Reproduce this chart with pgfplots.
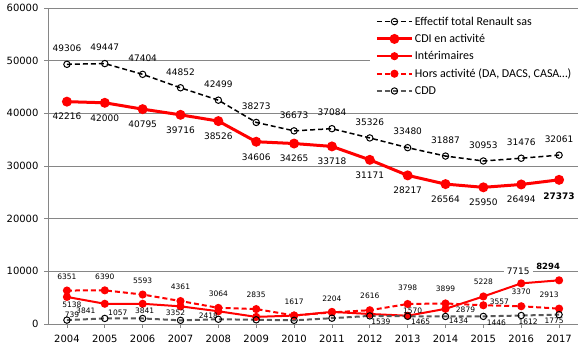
\documentclass[border=0pt]{standalone}
\usepackage{fontspec}
\usepackage{pgfplots}
\usepackage{pgfplotstable}
\pgfplotsset{compat=1.18}
\newfontfamily\dejavu{DejaVu Sans}
\newfontfamily\carlito{Carlito}

\pgfplotstableread{
x y
2004 49306
2005 49447
2006 47404
2007 44852
2008 42499
2009 38273
2010 36673
2011 37084
2012 35326
2013 33480
2014 31887
2015 30953
2016 31476
2017 32061
}\total
\pgfplotstableread{
x y
2004 42216
2005 42000
2006 40795
2007 39716
2008 38526
2009 34606
2010 34265
2011 33718
2012 31171
2013 28217
2014 26564
2015 25950
2016 26494
2017 27373
}\cdi
\pgfplotstableread{
x y
2004 5138
2005 3841
2006 3841
2007 3352
2008 2418
2009 1350
2010 1600
2011 2300
2012 1900
2013 1570
2014 2879
2015 5228
2016 7715
2017 8294
}\interim
\pgfplotstableread{
x y
2004 6351
2005 6390
2006 5593
2007 4361
2008 3064
2009 2835
2010 1617
2011 2204
2012 2616
2013 3798
2014 3899
2015 3557
2016 3370
2017 2913
}\hors
\pgfplotstableread{
x y
2004 739
2005 1057
2006 1050
2007 700
2008 900
2009 800
2010 700
2011 1100
2012 1539
2013 1465
2014 1434
2015 1446
2016 1612
2017 1775
}\cdd

% label tables: x y dx dy label
\pgfplotstableread{
x y dx dy label
2004 49306 0 16 49306
2005 49447 0 16 49447
2006 47404 0 16 47404
2007 44852 0 16 44852
2008 42499 0 16 42499
2009 38273 0 16 38273
2010 36673 0 16 36673
2011 37084 0 16 37084
2012 35326 0 16 35326
2013 33480 0 16 33480
2014 31887 0 16 31887
2015 30953 0 16 30953
2016 31476 0 16 31476
2017 32061 0 16 32061
}\totallbl
\pgfplotstableread{
x y dx dy label
2004 42216 0 -15 42216
2005 42000 0 -15 42000
2006 40795 0 -15 40795
2007 39716 0 -15 39716
2008 38526 0 -15 38526
2009 34606 0 -15 34606
2010 34265 0 -15 34265
2011 33718 0 -15 33718
2012 31171 0 -15 31171
2013 28217 0 -15 28217
2014 26564 0 -15 26564
2015 25950 0 -15 25950
2016 26494 0 -15 26494
}\cdilbl
\pgfplotstableread{
x y dx dy label
2017 27373 0 -16 27373
}\cdilblb
\pgfplotstableread{
x y dx dy label
2004 5138 5 -8 5138
2005 3841 -19 -7 3841
2006 3841 2 -7 3841
2007 3352 -5 -6 3352
2008 2418 -10 -5 2418
2013 1570 5 5 1570
2014 2879 20 -1 2879
2015 5228 0 15 5228
}\interimlbl
\pgfplotstableread{
x y dx dy label
2016 7715 -3 12 7715
}\interimlblbig
\pgfplotstableread{
x y dx dy label
2017 8294 -11 14 8294
}\interimlblbold
\pgfplotstableread{
x y dx dy label
2004 6351 0 14 6351
2005 6390 0 14 6390
2006 5593 0 14 5593
2007 4361 0 14 4361
2008 3064 0 14 3064
2009 2835 0 14 2835
2010 1617 0 14 1617
2011 2204 0 14 2204
2012 2616 0 14 2616
2013 3798 0 16 3798
2014 3899 0 15 3899
2015 3557 16 3 3557
2016 3370 0 14 3370
2017 2913 -10 14 2913
}\horslbl
\pgfplotstableread{
x y dx dy label
2004 739 5 5 739
2005 1057 13 6 1057
2012 1539 11 -6 1539
2013 1465 13 -5 1465
2014 1434 13 -4 1434
2015 1446 13 -6 1446
2016 1612 7 -6 1612
2017 1775 -5 -6 1775
}\cddlbl

\pgfplotsset{
  lbl/.style={draw=none, mark=none, forget plot,
    point meta=explicit symbolic,
    visualization depends on={\thisrow{dx} \as \dx},
    visualization depends on={\thisrow{dy} \as \dy},
    nodes near coords,
    every node near coord/.append style={anchor=center, xshift=\dx pt, yshift=\dy pt,
      font=#1, text=black, inner sep=0.5pt}},
}
\definecolor{cddgray}{RGB}{89,89,89}
\definecolor{gridgray}{RGB}{134,134,134}

\begin{document}
\begin{tikzpicture}
\begin{axis}[
  scale only axis, width=530pt, height=316pt,
  xmin=2003.5, xmax=2017.5, ymin=0, ymax=60000,
  xtick={2004,2005,...,2017}, ytick={0,10000,...,60000},
  axis x line*=bottom, axis y line*=left,
  ymajorgrids, major grid style={gridgray, line width=0.8pt},
  axis line style={gridgray, line width=0.8pt}, tick style={gridgray, line width=0.8pt},
  tick align=outside, major tick length=4pt,
  /pgf/number format/1000 sep={}, scaled y ticks=false,
  /pgf/number format/assume math mode=true,
  tick label style={font=\dejavu\fontsize{10}{12}\selectfont, text=black},
  x tick label style={yshift=-4pt},
  y tick label style={xshift=-2pt},
  clip=false,
  legend image code/.code={\draw[mark repeat=2, mark phase=2, #1] plot coordinates {(0pt,0pt) (17.5pt,0pt) (35pt,0pt)};},
  legend style={at={(1,1)}, anchor=north east, yshift=-4pt, draw=none, fill=white,
    font=\carlito\fontsize{12}{14}\selectfont, row sep=4.5pt, inner xsep=5pt, inner ysep=3pt,
    nodes={inner sep=1.5pt}},
  legend cell align=left,
]
\addplot[black, line width=1.5pt, dash pattern=on 5pt off 3pt, mark=o, mark size=3.2pt,
  mark options={solid, fill=white, line width=1pt}] table[x=x,y=y]{\total};
\addlegendentry{Effectif total Renault sas}
\addplot[red, line width=3pt, mark=*, mark size=3.4pt, mark options={solid}] table[x=x,y=y]{\cdi};
\addlegendentry{CDI en activité}
\addplot[red, line width=2pt, mark=*, mark size=3pt, mark options={solid}] table[x=x,y=y]{\interim};
\addlegendentry{Intérimaires}
\addplot[red, line width=2pt, dash pattern=on 5pt off 3pt, mark=*, mark size=3pt, mark options={solid}] table[x=x,y=y]{\hors};
\addlegendentry{Hors activité (DA, DACS, CASA…)}
\addplot[cddgray, line width=2pt, dash pattern=on 5pt off 3pt, mark=o, mark size=3.2pt,
  mark options={solid, draw=black, fill=white, line width=1pt}] table[x=x,y=y]{\cdd};
\addlegendentry{CDD}

\addplot[lbl={\dejavu\fontsize{9}{10}\selectfont}] table[x=x,y=y,meta=label]{\totallbl};
\addplot[lbl={\dejavu\fontsize{9}{10}\selectfont}] table[x=x,y=y,meta=label]{\cdilbl};
\addplot[lbl={\dejavu\bfseries\fontsize{9}{10}\selectfont}] table[x=x,y=y,meta=label]{\cdilblb};
\addplot[lbl={\dejavu\fontsize{7.5}{9}\selectfont}] table[x=x,y=y,meta=label]{\interimlbl};
\addplot[lbl={\dejavu\fontsize{7.5}{9}\selectfont}] table[x=x,y=y,meta=label]{\horslbl};
\addplot[lbl={\dejavu\fontsize{7.5}{9}\selectfont}] table[x=x,y=y,meta=label]{\cddlbl};
\addplot[lbl={\dejavu\fontsize{9}{10}\selectfont}, every node near coord/.append style={fill=white, inner xsep=3pt}] table[x=x,y=y,meta=label]{\interimlblbig};
\addplot[lbl={\dejavu\bfseries\fontsize{8.5}{10}\selectfont}, every node near coord/.append style={fill=white, inner xsep=3pt}] table[x=x,y=y,meta=label]{\interimlblbold};

\coordinate (sw) at (rel axis cs:0,0);
\coordinate (ne) at (rel axis cs:1,1);
\end{axis}
\pgfresetboundingbox
\path[use as bounding box] ([xshift=-48pt,yshift=-28pt]sw) rectangle ([xshift=1pt,yshift=8pt]ne);
\end{tikzpicture}
\end{document}
